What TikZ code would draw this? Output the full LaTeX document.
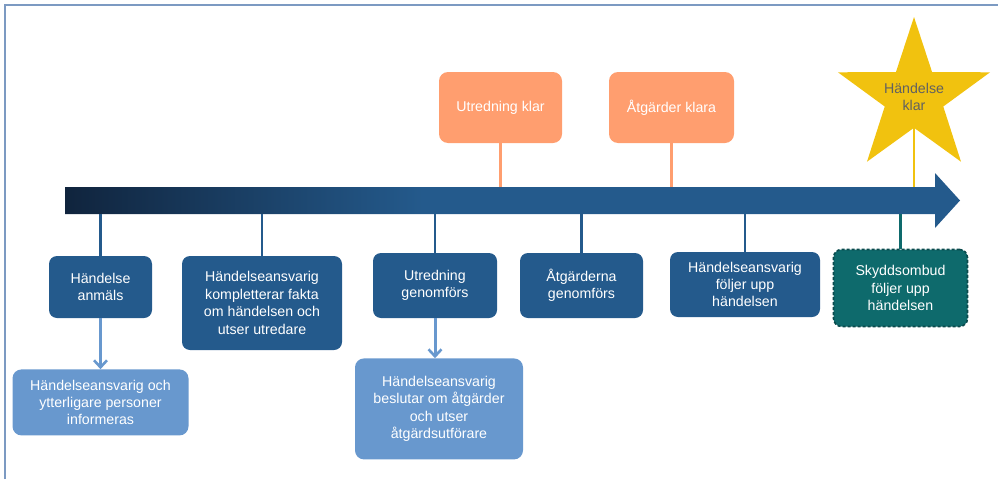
\documentclass[tikz,border=0pt]{standalone}
\usepackage{fontspec}
\setmainfont{Liberation Sans}
\usepackage{xcolor}
\usetikzlibrary{positioning,shapes.geometric,arrows.meta}
\definecolor{stepblue}{HTML}{245A8C}
\definecolor{darknavy}{HTML}{10243D}
\definecolor{infoblue}{HTML}{6898CE}
\definecolor{mileorange}{HTML}{FF9E6F}
\definecolor{stargold}{HTML}{F1C20F}
\definecolor{safetyteal}{HTML}{0E6A6C}
\definecolor{framegrey}{HTML}{7C9AC2}
\pgfdeclarehorizontalshading{timeline}{100bp}{color(0bp)=(darknavy); color(25bp)=(darknavy); color(45bp)=(stepblue); color(100bp)=(stepblue)}

\begin{document}
\begin{tikzpicture}[x=1pt,y=-1pt,node distance=40pt,
    boxtext/.style={align=center,text=white,inner sep=2pt,
        font=\fontsize{14.2}{17.4}\selectfont},
    stepbox/.style={boxtext,rectangle,rounded corners=8pt,fill=stepblue},
    infobox/.style={boxtext,rectangle,rounded corners=9pt,fill=infoblue},
    milebox/.style={boxtext,rectangle,rounded corners=9pt,fill=mileorange},
    safetybox/.style={boxtext,rectangle,rounded corners=8pt,fill=safetyteal,
        draw=safetyteal!70!black,line width=1.6pt,densely dashed},
    stem/.style={line width=2.6pt},
    infoarrow/.style={infoblue,line width=3pt,-{Straight Barb[length=7pt,width=13pt,line width=2.6pt]}}]
    \useasboundingbox (0,0) rectangle (998,479);
    \draw[framegrey,line width=2pt] (5,479) -- (5,5) -- (998,5);

    \coordinate (shafttop) at (65,187);
    \coordinate (shaftbot) at (65,214);
    \shade[shading=timeline] (65,187) -- (935,187) -- (935,173) -- (960,200.5)
        -- (935,228) -- (935,214) -- (65,214) -- cycle;

    \node[milebox,minimum width=123pt,minimum height=71pt] (utrklar) at (500.5,107.5) {Utredning klar};
    \node[milebox,minimum width=125pt,minimum height=71pt] (atgklar) at (671.5,107.5) {Åtgärder klara};
    \node[star,star points=5,star point ratio=2.6,minimum size=160pt,inner sep=0pt,fill=stargold,
        label={[text=black!62,align=center,font=\fontsize{14.2}{17.4}\selectfont]center:Händelse\\klar}]
        (klar) at (914,97) {};

    \node[stepbox,minimum width=103pt,minimum height=62pt] (anmals) at (100.5,287) {Händelse\\anmäls};
    \node[stepbox,minimum width=160pt,minimum height=94pt] (komplett) at (262,303)
        {Händelseansvarig\\kompletterar fakta\\om händelsen och\\utser utredare};
    \node[stepbox,minimum width=124pt,minimum height=65pt] (utredning) at (435,285.5) {Utredning\\genomförs};
    \node[stepbox,minimum width=123pt,minimum height=65pt] (genomfors) at (581.5,285.5) {Åtgärderna\\genomförs};
    \node[stepbox,minimum width=150pt,minimum height=65pt] (foljer) at (745,284.5)
        {Händelseansvarig\\följer upp\\händelsen};
    \node[safetybox,minimum width=134pt,minimum height=77pt] (skydd) at (900.5,288)
        {Skyddsombud\\följer upp\\händelsen};

    \node[infobox,minimum width=176pt,minimum height=66pt] (informeras) [below=51pt of anmals]
        {Händelseansvarig och\\ytterligare personer\\informeras};
    \node[infobox,minimum width=168pt,minimum height=101pt] (beslutar) [below=40pt of utredning,xshift=4pt]
        {Händelseansvarig\\beslutar om åtgärder\\och utser\\åtgärdsutförare};

    \draw[stem,mileorange] (utrklar.south) -- (utrklar.south |- shafttop);
    \draw[stem,mileorange] (atgklar.south) -- (atgklar.south |- shafttop);
    \draw[stem,stargold] (klar.south) -- (klar.south |- shafttop);
    \draw[stem,stepblue] (anmals.north) -- (anmals.north |- shaftbot);
    \draw[stem,stepblue] (komplett.north) -- (komplett.north |- shaftbot);
    \draw[stem,stepblue] (utredning.north) -- (utredning.north |- shaftbot);
    \draw[stem,stepblue] (genomfors.north) -- (genomfors.north |- shaftbot);
    \draw[stem,stepblue] (foljer.north) -- (foljer.north |- shaftbot);
    \draw[stem,safetyteal] (skydd.north) -- (skydd.north |- shaftbot);
    \draw[infoarrow] (anmals.south) -- (informeras.north);
    \draw[infoarrow] (utredning.south) -- (utredning.south |- beslutar.north);
\end{tikzpicture}
\end{document}
